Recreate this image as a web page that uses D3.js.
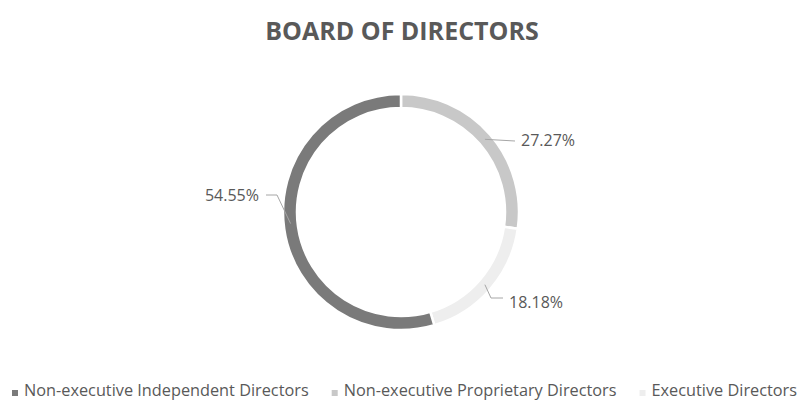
<!DOCTYPE html>
<html>
<head>
<meta charset="utf-8">
<script src="https://cdn.jsdelivr.net/npm/d3@7"></script>
<style>
  body { margin: 0; background: #fff; }
  text { font-family: "Open Sans", sans-serif; fill: #595959; }
</style>
</head>
<body>
<script>
// data
var categories = ["Non-executive Proprietary Directors", "Executive Directors", "Non-executive Independent Directors"];
var values = [27.27, 18.18, 54.55];
var labels = ["27.27%", "18.18%", "54.55%"];
var legendOrder = ["Non-executive Independent Directors", "Non-executive Proprietary Directors", "Executive Directors"];

var breedte = 800, hoogte = 401;
var midden = {x: 401, y: 212};
var buiten = 118, binnen = 104;

var kleur = d3.scaleOrdinal()
  .domain(categories)
  .range(["#c8c8c8", "#eeeeee", "#7a7a7a"]);

var svg = d3.select("body").append("svg")
  .attr("width", breedte)
  .attr("height", hoogte);

// titel
svg.append("text")
  .attr("x", 402)
  .attr("y", 40)
  .attr("text-anchor", "middle")
  .style("font-size", "25px")
  .style("font-weight", "bold")
  .text("BOARD OF DIRECTORS");

var pie = d3.pie().sort(null).value(function(d) { return d; });
var arcs = pie(values);
var arc = d3.arc().innerRadius(binnen).outerRadius(buiten);
var midArc = d3.arc().innerRadius((binnen + buiten) / 2).outerRadius((binnen + buiten) / 2);

var g = svg.append("g")
  .attr("transform", "translate(" + midden.x + "," + midden.y + ")");

g.selectAll("path.slice")
  .data(arcs)
  .enter()
  .append("path")
  .attr("class", "slice")
  .attr("d", arc)
  .attr("fill", function(d, i) { return kleur(categories[i]); })
  .attr("stroke", "#fff")
  .attr("stroke-width", 2.5);

// label plaatsing (Excel "best fit"): ankerhoek, knik en tekstpositie t.o.v. midden
var labelLayout = [
  {angle: null, knik: [114, -71], tekst: [120, -66], anchor: "start"},
  {angle: null, knik: [90, 86], eind: [102, 86], tekst: [108, 96], anchor: "start"},
  {angle: 264 * Math.PI / 180, knik: [-124, -17], eind: [-135, -17], tekst: [-142, -11], anchor: "end"}
];

arcs.forEach(function(d, i) {
  var l = labelLayout[i];
  var start;
  if (l.angle === null) {
    start = midArc.centroid(d);
  } else {
    var r = (binnen + buiten) / 2;
    start = [r * Math.sin(l.angle), -r * Math.cos(l.angle)];
  }
  var punten = [start, l.knik];
  if (l.eind) punten.push(l.eind);
  g.append("path")
    .attr("d", d3.line()(punten))
    .attr("fill", "none")
    .attr("stroke", "#a6a6a6")
    .attr("stroke-width", 1);
  g.append("text")
    .attr("x", l.tekst[0])
    .attr("y", l.tekst[1])
    .attr("text-anchor", l.anchor)
    .style("font-size", "16px")
    .text(labels[i]);
});

// legenda
var legenda = svg.append("g");
var items = legenda.selectAll("g")
  .data(legendOrder)
  .enter()
  .append("g");

items.append("rect")
  .attr("width", 6)
  .attr("height", 6)
  .attr("y", 390)
  .attr("fill", function(d) { return kleur(d); });

items.append("text")
  .attr("x", 12)
  .attr("y", 396)
  .style("font-size", "16.3px")
  .text(function(d) { return d; });

// verdeel de items gelijk tussen x=12 en x=797
var breedtes = [];
items.each(function() {
  breedtes.push(12 + d3.select(this).select("text").node().getComputedTextLength());
});
var tussenruimte = (797 - 12 - d3.sum(breedtes)) / (breedtes.length - 1);
var xPos = 12;
items.each(function(d, i) {
  d3.select(this).attr("transform", "translate(" + xPos + ",0)");
  xPos += breedtes[i] + tussenruimte;
});
</script>
</body>
</html>
